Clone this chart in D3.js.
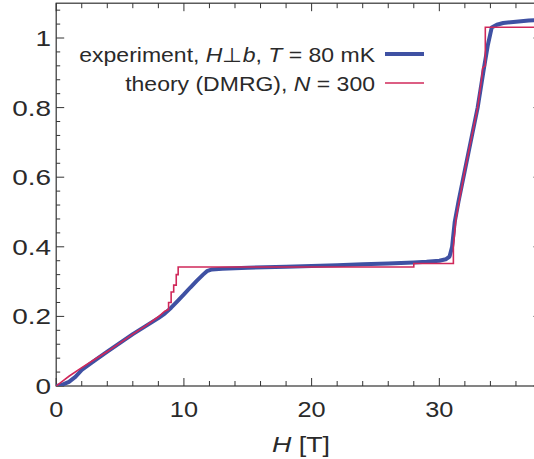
<!DOCTYPE html>
<html><head><meta charset="utf-8">
<script src="https://cdn.jsdelivr.net/npm/d3@7"></script>
<style>html,body{margin:0;padding:0;background:#fff;} svg{display:block;}</style>
</head><body>
<script>
// ---- data ----
const expH = [0, 0.5, 1, 1.5, 2, 3, 4, 5, 6, 7, 8, 8.5, 9, 9.5, 10, 10.5, 11, 11.5, 11.8, 12.2, 13, 15, 18, 20, 22, 24, 26, 28, 29, 30, 30.5, 30.8, 31.0, 31.2, 31.5, 32, 32.5, 33, 33.5, 33.8, 34.1, 34.5, 35, 36, 37, 38];
const expM = [0, 0.004, 0.012, 0.026, 0.046, 0.073, 0.099, 0.124, 0.149, 0.172, 0.195, 0.208, 0.225, 0.244, 0.263, 0.283, 0.302, 0.320, 0.330, 0.335, 0.337, 0.340, 0.343, 0.345, 0.347, 0.350, 0.352, 0.355, 0.357, 0.360, 0.364, 0.372, 0.40, 0.47, 0.53, 0.62, 0.71, 0.80, 0.915, 0.98, 1.030, 1.038, 1.043, 1.047, 1.050, 1.052];
const thH = [0, 0.5, 1, 2, 3, 4, 5, 6, 7, 8, 8.5, 8.8, 8.8, 9.0, 9.0, 9.2, 9.2, 9.4, 9.4, 9.55, 9.55, 28.0, 28.0, 31.1, 31.1, 31.3, 31.6, 32, 32.5, 33, 33.3, 33.4, 33.6, 33.6, 38];
const thM = [0, 0.014, 0.028, 0.053, 0.076, 0.099, 0.124, 0.149, 0.173, 0.199, 0.215, 0.22, 0.24, 0.24, 0.27, 0.27, 0.29, 0.29, 0.32, 0.32, 0.342, 0.342, 0.352, 0.352, 0.40, 0.48, 0.54, 0.62, 0.71, 0.80, 0.88, 0.915, 0.92, 1.031, 1.031];
const xTicks = [0, 10, 20, 30];
const yTicks = [0, 0.2, 0.4, 0.6, 0.8, 1];
const xLabel = "H";
const xUnit = " [T]";
const legendExp = ["experiment, ", "H", "⊥", "b", ", ", "T", " = 80 mK"];
const legendTh = ["theory (DMRG), ", "N", " = 300"];

const W = 534, H = 459;
const svg = d3.select("body").append("svg").attr("width", W).attr("height", H);
const x = d3.scaleLinear().domain([0, 38]).range([56.2, 541.5]);
const y = d3.scaleLinear().domain([0, 1.1]).range([386, 3.2]);
const frameCol = "#333";
const textCol = "#2a2a2a";
const font = "Liberation Sans, Arial, sans-serif";
const expCol = "#3f51a3", thCol = "#d0285a";

// frame
svg.append("rect").attr("x", x(0)).attr("y", y(1.1)).attr("width", x(38)-x(0)).attr("height", y(0)-y(1.1))
  .attr("fill", "none").attr("stroke", frameCol).attr("stroke-width", 1.2);

// ticks
const g = svg.append("g").attr("stroke", frameCol).attr("stroke-width", 1);
d3.range(0, 38.01, 2).forEach(v => {
  const len = v % 10 === 0 ? 8 : 5;
  g.append("line").attr("x1", x(v)).attr("x2", x(v)).attr("y1", y(0)).attr("y2", y(0)-len);
  g.append("line").attr("x1", x(v)).attr("x2", x(v)).attr("y1", y(1.1)).attr("y2", y(1.1)+len);
});
d3.range(0, 1.1001, 0.04).forEach(v => {
  const major = Math.abs(v/0.2 - Math.round(v/0.2)) < 1e-6;
  const len = major ? 8 : 4;
  g.append("line").attr("x1", x(0)).attr("x2", x(0)+len).attr("y1", y(v)).attr("y2", y(v));
  g.append("line").attr("x1", x(38)).attr("x2", x(38)-len).attr("y1", y(v)).attr("y2", y(v));
});

// tick labels (horizontally widened like the reference)
svg.append("g").selectAll("text").data(xTicks).join("text")
  .attr("transform", d => `translate(${x(d)},417) scale(1.15,1)`).attr("text-anchor", "middle")
  .attr("font-family", font).attr("font-size", 22).attr("fill", textCol).text(d => d);
svg.append("g").selectAll("text").data(yTicks).join("text")
  .attr("transform", d => `translate(51,${y(d) + 8}) scale(1.27,1)`).attr("text-anchor", "end")
  .attr("font-family", font).attr("font-size", 22).attr("fill", textCol).text(d => d);

// axis title
const xt = svg.append("text").attr("transform", "translate(301,452) scale(1.22,1)").attr("text-anchor", "middle")
  .attr("font-family", font).attr("font-size", 22).attr("fill", textCol);
xt.append("tspan").attr("font-style", "italic").text(xLabel);
xt.append("tspan").text(xUnit);

// lines
const line = d3.line().x(d => x(d[0])).y(d => y(d[1]));
svg.append("clipPath").attr("id", "c").append("rect")
  .attr("x", x(0)).attr("y", y(1.1)).attr("width", x(38)-x(0)).attr("height", y(0)-y(1.1));
svg.append("path").datum(expH.map((h, i) => [h, expM[i]])).attr("d", line)
  .attr("fill", "none").attr("stroke", expCol).attr("stroke-width", 4).attr("stroke-linejoin", "round").attr("clip-path", "url(#c)");
svg.append("path").datum(thH.map((h, i) => [h, thM[i]])).attr("d", line)
  .attr("fill", "none").attr("stroke", thCol).attr("stroke-width", 1.6).attr("clip-path", "url(#c)");

// legend
const italicIdx1 = [1, 3, 5];
const l1 = svg.append("text").attr("transform", "translate(375,62) scale(1.15,1)").attr("text-anchor", "end")
  .attr("font-family", font).attr("font-size", 20).attr("fill", textCol);
legendExp.forEach((s, i) => l1.append("tspan").attr("font-style", italicIdx1.includes(i) ? "italic" : null).text(s));
const l2 = svg.append("text").attr("transform", "translate(375,91) scale(1.15,1)").attr("text-anchor", "end")
  .attr("font-family", font).attr("font-size", 20).attr("fill", textCol);
legendTh.forEach((s, i) => l2.append("tspan").attr("font-style", i === 1 ? "italic" : null).text(s));
svg.append("line").attr("x1", 385).attr("x2", 424).attr("y1", 54).attr("y2", 54).attr("stroke", expCol).attr("stroke-width", 4);
svg.append("line").attr("x1", 385).attr("x2", 424).attr("y1", 83).attr("y2", 83).attr("stroke", thCol).attr("stroke-width", 1.6);
</script>
</body></html>
